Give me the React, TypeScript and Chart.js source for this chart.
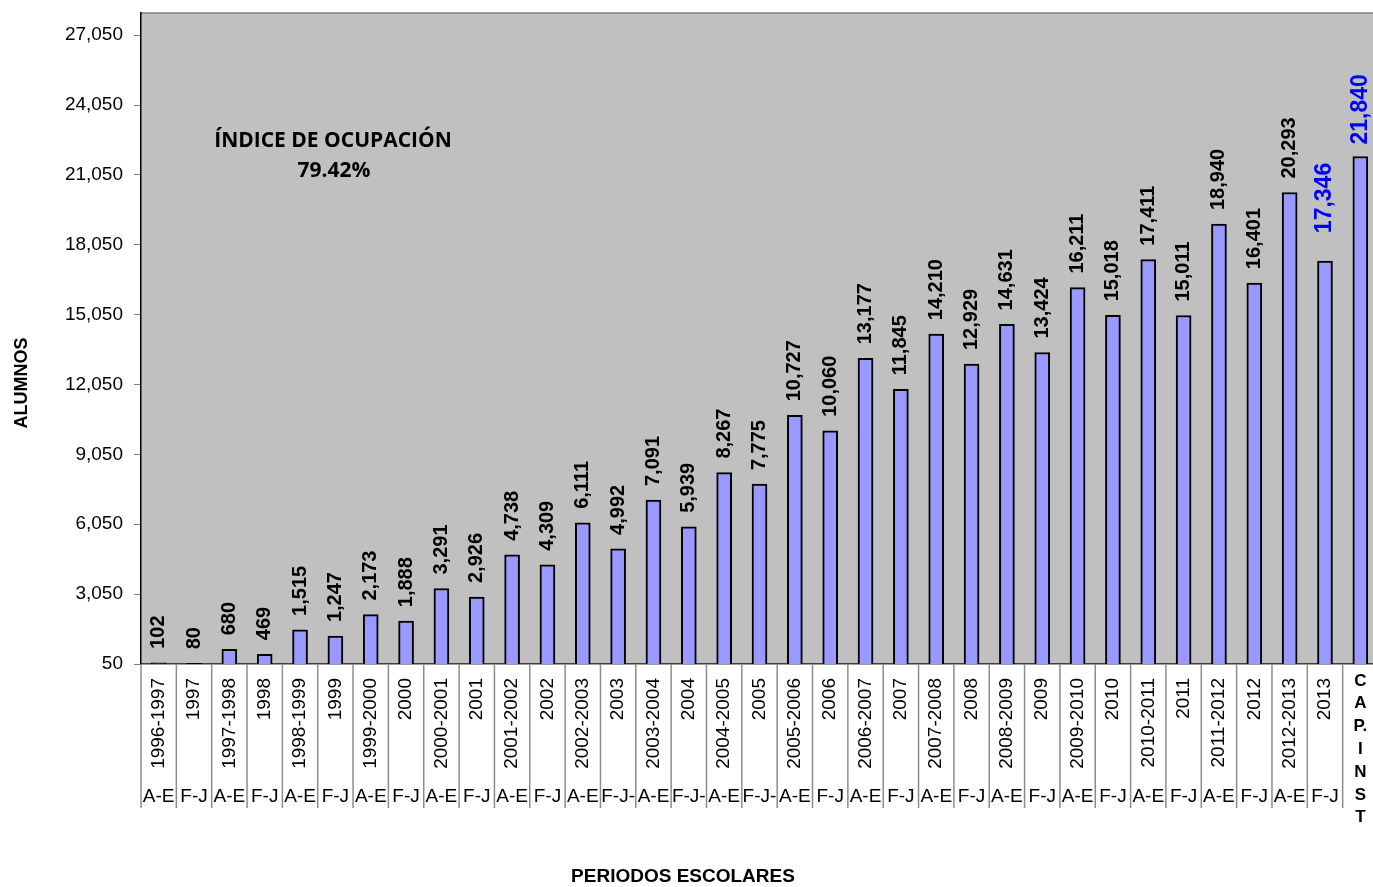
import React, { useEffect, useRef } from "react";
import { Chart, registerables } from "chart.js";

Chart.register(...registerables);

const yearLabels = [
  "1996-1997", "1997", "1997-1998", "1998", "1998-1999", "1999", "1999-2000", "2000",
  "2000-2001", "2001", "2001-2002", "2002", "2002-2003", "2003", "2003-2004", "2004",
  "2004-2005", "2005", "2005-2006", "2006", "2006-2007", "2007", "2007-2008", "2008",
  "2008-2009", "2009", "2009-2010", "2010", "2010-2011", "2011", "2011-2012", "2012",
  "2012-2013", "2013", "CAPINST",
];

const periodLabels = [
  "A-E", "F-J", "A-E", "F-J", "A-E", "F-J", "A-E", "F-J",
  "A-E", "F-J", "A-E", "F-J", "A-E", "F-J-", "A-E", "F-J-",
  "A-E", "F-J-", "A-E", "F-J", "A-E", "F-J", "A-E", "F-J",
  "A-E", "F-J", "A-E", "F-J", "A-E", "F-J", "A-E", "F-J",
  "A-E", "F-J", "",
];

const capinstLetters = ["C", "A", "P.", "I", "N", "S", "T"];

const alumnos = [
  102, 80, 680, 469, 1515, 1247, 2173, 1888,
  3291, 2926, 4738, 4309, 6111, 4992, 7091, 5939,
  8267, 7775, 10727, 10060, 13177, 11845, 14210, 12929,
  14631, 13424, 16211, 15018, 17411, 15011, 18940, 16401,
  20293, 17346, 21840,
];

const yTickValues = [50, 3050, 6050, 9050, 12050, 15050, 18050, 21050, 24050, 27050];

const highlighted = [33, 34];

const annotationLines = ["ÍNDICE DE OCUPACIÓN", "79.42%"];

export default function App() {
  const ref = useRef<HTMLCanvasElement>(null);

  useEffect(() => {
    if (!ref.current) return;

    const bgPlugin = {
      id: "plotBg",
      beforeDraw(chart: any) {
        const { ctx, chartArea } = chart;
        const { left, top, right, bottom } = chartArea;
        ctx.save();
        ctx.fillStyle = "#C0C0C0";
        ctx.fillRect(left, top, right - left, bottom - top);
        ctx.strokeStyle = "#808080";
        ctx.lineWidth = 1.5;
        ctx.beginPath();
        ctx.moveTo(left, top);
        ctx.lineTo(right, top);
        ctx.lineTo(right, bottom);
        ctx.stroke();
        ctx.restore();
      },
    };

    const labelsPlugin = {
      id: "customLabels",
      afterDraw(chart: any) {
        const { ctx, chartArea } = chart;
        const xScale = chart.scales.x;
        const meta = chart.getDatasetMeta(0);
        const bottom = chartArea.bottom;
        const half = (xScale.getPixelForValue(1) - xScale.getPixelForValue(0)) / 2;
        ctx.save();

        // separators
        ctx.strokeStyle = "#8c8c8c";
        ctx.lineWidth = 1.5;
        for (let i = 0; i < yearLabels.length; i++) {
          const bx = xScale.getPixelForValue(i) - half;
          ctx.beginPath();
          ctx.moveTo(bx, bottom);
          ctx.lineTo(bx, bottom + 144);
          ctx.stroke();
        }

        // year labels (rotated)
        ctx.fillStyle = "#000";
        for (let i = 0; i < yearLabels.length; i++) {
          const x = xScale.getPixelForValue(i);
          if (yearLabels[i] === "CAPINST") {
            ctx.font = 'bold 17px "Liberation Sans", Arial, sans-serif';
            ctx.textAlign = "center";
            ctx.textBaseline = "middle";
            capinstLetters.forEach((l, k) => {
              ctx.fillText(l, x, bottom + 17 + k * 22.8);
            });
            continue;
          }
          ctx.save();
          ctx.translate(x, bottom + 14);
          ctx.rotate(-Math.PI / 2);
          ctx.font = '19px "Liberation Sans", Arial, sans-serif';
          ctx.textAlign = "right";
          ctx.textBaseline = "middle";
          ctx.fillText(yearLabels[i], 0, 0);
          ctx.restore();
        }

        // period labels
        ctx.font = '19px "Liberation Sans", Arial, sans-serif';
        ctx.textAlign = "center";
        ctx.textBaseline = "middle";
        for (let i = 0; i < periodLabels.length; i++) {
          const x = xScale.getPixelForValue(i);
          ctx.fillText(periodLabels[i], x, bottom + 133);
        }

        // value labels
        meta.data.forEach((bar: any, i: number) => {
          const hi = highlighted.includes(i);
          const gap = i === 33 ? 28 : i === 34 ? 12 : 14;
          ctx.save();
          ctx.translate(bar.x, bar.y - gap);
          ctx.rotate(-Math.PI / 2);
          ctx.font = hi
            ? 'bold 23px "Liberation Sans", Arial, sans-serif'
            : 'bold 20px "Liberation Sans", Arial, sans-serif';
          ctx.fillStyle = hi ? "#0000FF" : "#000";
          ctx.textAlign = "left";
          ctx.textBaseline = "middle";
          ctx.fillText(alumnos[i].toLocaleString("en-US"), 0, 0);
          ctx.restore();
        });

        // annotation
        ctx.fillStyle = "#000";
        ctx.font = 'bold 21px "Open Sans", "Noto Sans", sans-serif';
        ctx.textAlign = "center";
        ctx.textBaseline = "middle";
        ctx.fillText(annotationLines[0], 333, 141);
        ctx.fillText(annotationLines[1], 334, 171);

        // axis titles
        ctx.font = 'bold 19px "Liberation Sans", Arial, sans-serif';
        ctx.fillText("PERIODOS ESCOLARES", 683, 877);
        ctx.save();
        ctx.translate(22, 383);
        ctx.rotate(-Math.PI / 2);
        ctx.font = 'bold 18px "Liberation Sans", Arial, sans-serif';
        ctx.fillText("ALUMNOS", 0, 0);
        ctx.restore();

        ctx.restore();
      },
    };

    const chart = new Chart(ref.current, {
      type: "bar",
      data: {
        labels: yearLabels,
        datasets: [
          {
            data: alumnos,
            backgroundColor: "#9999FF",
            borderColor: "#000000",
            borderWidth: 2,
            barThickness: 15,
          },
        ],
      },
      options: {
        animation: false,
        responsive: true,
        maintainAspectRatio: false,
        layout: { padding: { top: 13, right: 4, left: 0, bottom: 0 } },
        plugins: {
          legend: { display: false },
          tooltip: { enabled: false },
        },
        scales: {
          x: {
            type: "category",
            offset: true,
            ticks: { display: false },
            grid: { display: false },
            border: { display: true, color: "#404040", width: 1.5 },
            afterFit: (scale: any) => {
              scale.height = 223;
              scale.paddingLeft = 0;
              scale.paddingRight = 0;
            },
          },
          y: {
            type: "linear",
            min: 50,
            max: 28000,
            afterBuildTicks: (scale: any) => {
              scale.ticks = yTickValues.map((v) => ({ value: v }));
            },
            afterFit: (scale: any) => {
              scale.width = 141;
              scale.paddingTop = 0;
              scale.paddingBottom = 0;
            },
            ticks: {
              color: "#000",
              padding: 11,
              font: { family: '"Liberation Sans", Arial, sans-serif', size: 19 },
              callback: (v: any) => Number(v).toLocaleString("en-US"),
            },
            grid: {
              drawOnChartArea: false,
              drawTicks: true,
              tickLength: 7,
              color: "#808080",
            },
            border: { display: true, color: "#000", width: 1.5 },
          },
        },
      },
      plugins: [bgPlugin, labelsPlugin],
    });

    return () => chart.destroy();
  }, []);

  return (
    <div
      style={{
        position: "fixed",
        left: 0,
        top: 0,
        width: 1373,
        height: 887,
        overflow: "hidden",
        background: "#fff",
      }}
    >
      <div style={{ position: "relative", width: 1382, height: 887 }}>
        <canvas ref={ref} />
      </div>
    </div>
  );
}
